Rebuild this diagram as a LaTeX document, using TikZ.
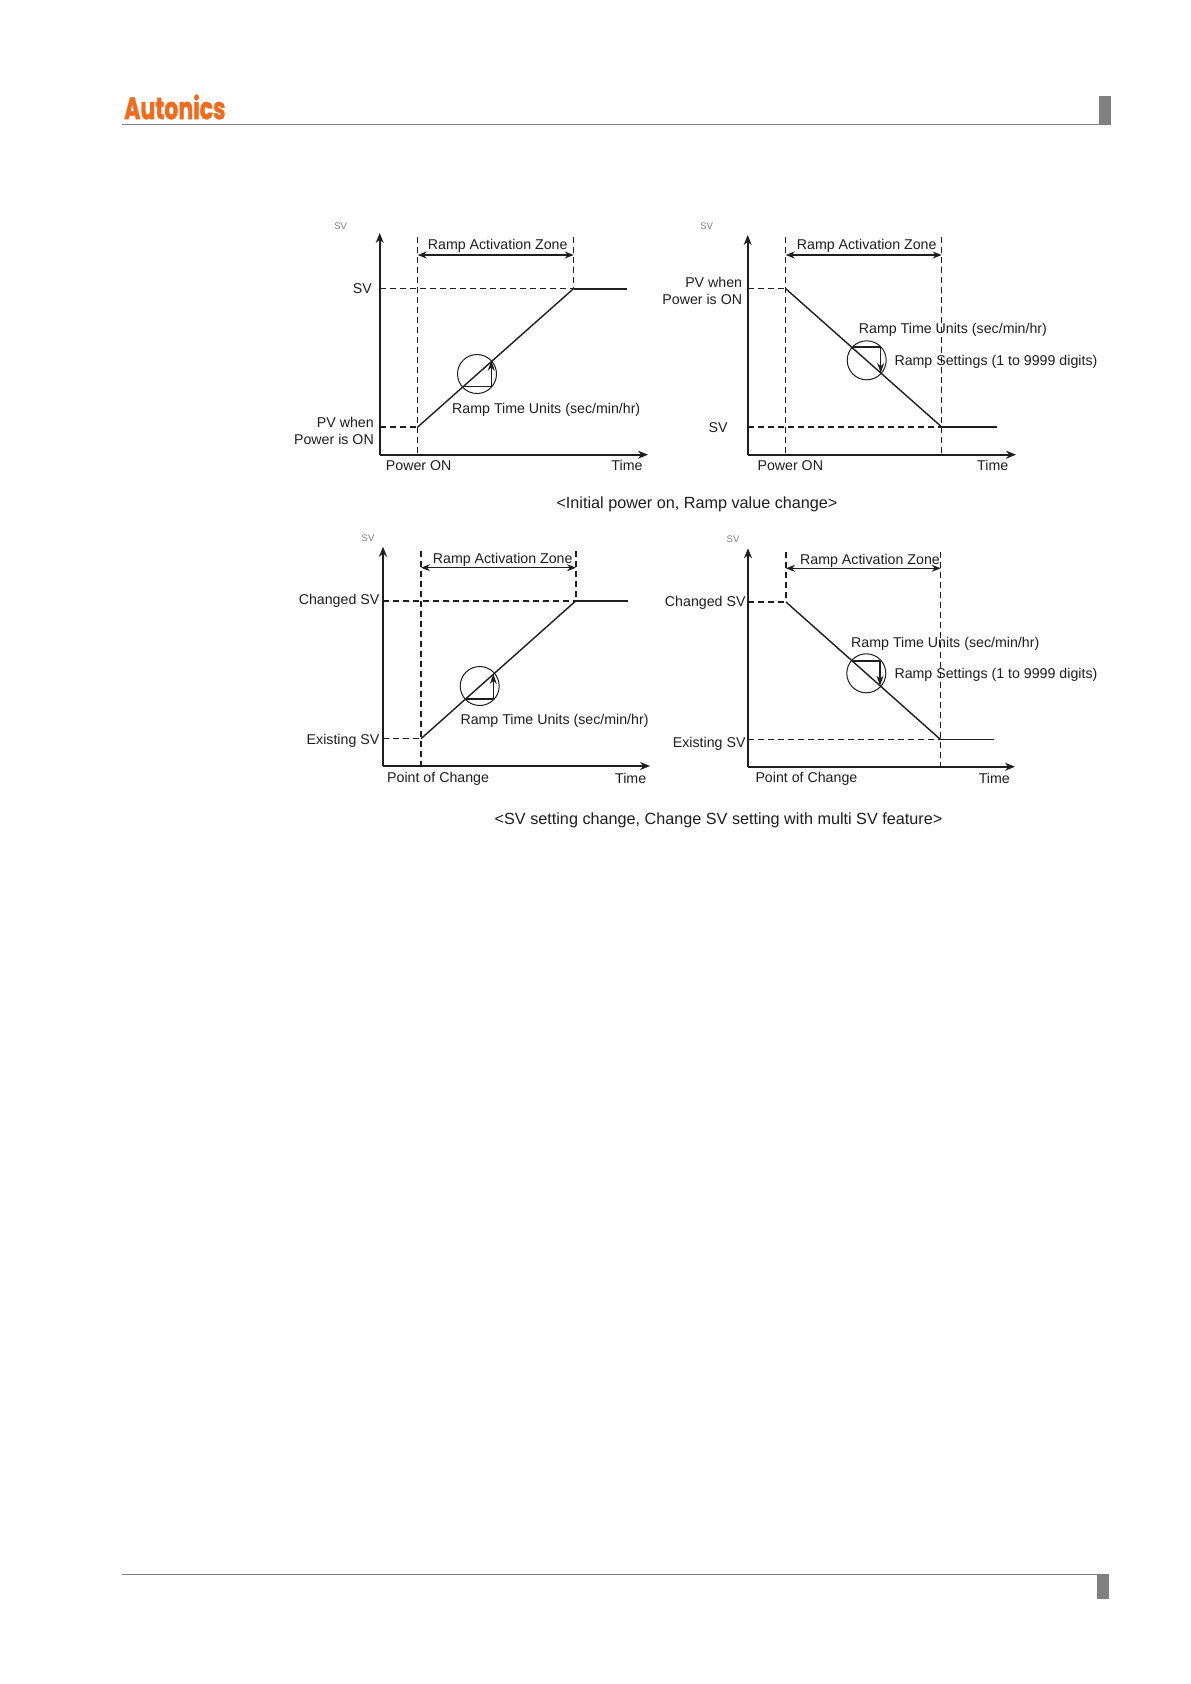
\documentclass[tikz,border=0pt]{standalone}
\usepackage{fontspec}
\setmainfont{Liberation Sans}
\newfontfamily\logofont[BoldFeatures={FakeBold=1.6}]{Poppins}
\usetikzlibrary{arrows.meta}
\definecolor{ink}{HTML}{1E1E1E}
\definecolor{rulegray}{HTML}{808080}
\definecolor{logoorange}{HTML}{F26A1B}
\tikzset{
  lbl/.style={inner sep=0pt,yshift=-2.5pt,font=\fontsize{14.2}{16}\selectfont,text=ink},
  lw/.style={lbl,anchor=mid west},
  le/.style={lbl,anchor=mid east},
  lc/.style={lbl,anchor=mid},
  svtiny/.style={inner sep=0pt,anchor=mid,yshift=-0.5pt,font=\fontsize{9.5}{11}\selectfont,text=gray},
  captext/.style={inner sep=0pt,anchor=mid,yshift=-2.5pt,font=\fontsize{16.2}{18}\selectfont,text=ink},
  axisline/.style={draw=ink,line width=1.7pt,-{Stealth[length=10pt,width=8pt]}},
  guide/.style={draw=ink,line width=1.2pt,dash pattern=on 6pt off 4pt},
  guidebold/.style={guide,line width=1.6pt},
  rampline/.style={draw=ink,line width=1.4pt},
  flatline/.style={draw=ink,line width=1.3pt},
  flatbold/.style={draw=ink,line width=2pt},
  zoneline/.style={draw=ink,line width=1.3pt,{Stealth[length=9pt,width=7pt]}-{Stealth[length=9pt,width=7pt]}},
  ring/.style={draw=ink,line width=1pt,circle,minimum size=39pt,inner sep=0pt},
  legline/.style={draw=ink,line width=1.3pt},
  legarrow/.style={draw=ink,line width=1.3pt,-{Stealth[length=10pt,width=7pt]}},
  rulefill/.style={fill=rulegray,draw=none},
  ruleline/.style={draw=rulegray,line width=1pt}
}
\begin{document}
\begin{tikzpicture}[x=1pt,y=-1pt]
\useasboundingbox[fill=white] (0,0) rectangle (1191,1684);
% header and footer
\node[inner sep=0pt,anchor=west,text=logoorange,font=\logofont\bfseries\fontsize{24}{28}\selectfont] (logo) at (124,107) {\scalebox{0.92}[1.28]{Autonics}};
\coordinate (hl) at (122,124.5); \coordinate (hr) at (1100,124.5);
\draw[ruleline] (hl) -- (hr);
\fill[rulefill] (1099,96) rectangle (1111,125);
\coordinate (fl) at (122,1574.5); \coordinate (fr) at (1098,1574.5);
\draw[ruleline] (fl) -- (fr);
\fill[rulefill] (1097,1574) rectangle (1109,1599);

% Diagram A
\coordinate (a0) at (379.7,454.7); \coordinate (ay) at (379.7,233); \coordinate (ax) at (648,454.7);
\coordinate (a1t) at (417.7,237); \coordinate (a1b) at (417.7,454.7);
\coordinate (a2t) at (573.7,237);
\coordinate (aS0) at (379.7,288.5); \coordinate (aS) at (573.7,288.5); \coordinate (aSe) at (627,288.5);
\coordinate (aP0) at (379.7,427); \coordinate (aP) at (417.7,427);
\coordinate (aZl) at (417.7,255); \coordinate (aZr) at (573.7,255);
\coordinate (aT1) at (462.7,386.7); \coordinate (aT2) at (491.3,386.7); \coordinate (aT3) at (491.3,360.7);
\draw[axisline] (a0) -- (ay); \draw[axisline] (a0) -- (ax);
\draw[guide] (a1t) -- (a1b); \draw[guide] (a2t) -- (aS);
\draw[guidebold] (aS0) -- (aS); \draw[guide] (aP0) -- (aP);
\draw[flatbold] (aS) -- (aSe); \draw[rampline] (aP) -- (aS);
\draw[zoneline] (aZl) -- (aZr);
\node[ring] (aC) at (477,374) {};
\draw[legline] (aT1) -- (aT2); \draw[legarrow] (aT2) -- (aT3);
\node[svtiny] (asv) at (340.7,226) {SV};
\node[lc] (azt) at (497.7,244) {Ramp Activation Zone};
\node[le] (asl) at (372,288) {SV};
\node[le] (ap1) at (374,422) {PV when};
\node[le] (ap2) at (374,439) {Power is ON};
\node[lw] (art) at (452,408) {Ramp Time Units (sec/min/hr)};
\node[lc] (apo) at (418.7,465) {Power ON};
\node[lc] (ati) at (627,465) {Time};
\node[captext] (cap1) at (697,503) {<Initial power on, Ramp value change>};

% Diagram B
\coordinate (b0) at (747.7,454.7); \coordinate (by) at (747.7,235); \coordinate (bx) at (1016,454.7);
\coordinate (b1t) at (785.7,237); \coordinate (b1b) at (785.7,454.7);
\coordinate (b2t) at (941.7,237); \coordinate (b2b) at (941.7,454.7);
\coordinate (bP0) at (747.7,288.7); \coordinate (bP) at (785.7,288.7);
\coordinate (bS0) at (747.7,427); \coordinate (bS) at (941.7,427); \coordinate (bSe) at (996.7,427);
\coordinate (bZl) at (785.7,255); \coordinate (bZr) at (941.7,255);
\coordinate (bT1) at (853.3,347); \coordinate (bT2) at (880.7,347); \coordinate (bT3) at (880.7,373);
\draw[axisline] (b0) -- (by); \draw[axisline] (b0) -- (bx);
\draw[guide] (b1t) -- (b1b); \draw[guide] (b2t) -- (b2b);
\draw[guide] (bP0) -- (bP); \draw[guide] (bS0) -- (bS);
\draw[flatline] (bS) -- (bSe); \draw[rampline] (bP) -- (bS);
\draw[zoneline] (bZl) -- (bZr);
\node[ring] (bC) at (866.7,360.3) {};
\draw[legline] (bT1) -- (bT2); \draw[legarrow] (bT2) -- (bT3);
\node[svtiny] (bsv) at (706.7,226) {SV};
\node[lc] (bzt) at (866.7,244) {Ramp Activation Zone};
\node[le] (bp1) at (742.3,282.3) {PV when};
\node[le] (bp2) at (742.3,299.3) {Power is ON};
\node[lw] (brt) at (858.7,328.3) {Ramp Time Units (sec/min/hr)};
\node[lw] (brs) at (894.3,360) {Ramp Settings (1 to 9999 digits)};
\node[lc] (bsl) at (718,427) {SV};
\node[lc] (bpo) at (790.3,465) {Power ON};
\node[lc] (bti) at (992.7,465) {Time};

% Diagram C
\coordinate (c0) at (383,766); \coordinate (cy) at (383,546.7); \coordinate (cx) at (650,766);
\coordinate (c1t) at (421,550.7); \coordinate (c1b) at (421,766);
\coordinate (c2t) at (576,550.7);
\coordinate (cS0) at (383,600.7); \coordinate (cS) at (576,600.7); \coordinate (cSe) at (628,600.7);
\coordinate (cP0) at (383,738.7); \coordinate (cP) at (421,738.7);
\coordinate (cZl) at (421,567.7); \coordinate (cZr) at (576,567.7);
\coordinate (cT1) at (465.3,699); \coordinate (cT2) at (493.3,699); \coordinate (cT3) at (493.3,674);
\draw[axisline] (c0) -- (cy); \draw[axisline] (c0) -- (cx);
\draw[guide] (c1t) -- (c1b); \draw[guide] (c2t) -- (cS);
\draw[guidebold] (cS0) -- (cS); \draw[guide] (cP0) -- (cP);
\draw[flatbold] (cS) -- (cSe); \draw[rampline] (cP) -- (cS);
\draw[zoneline] (cZl) -- (cZr);
\node[ring] (cC) at (479.7,686) {};
\draw[legline] (cT1) -- (cT2); \draw[legarrow] (cT2) -- (cT3);
\node[svtiny] (csv) at (368,538.3) {SV};
\node[lc] (czt) at (502.7,558.7) {Ramp Activation Zone};
\node[le] (csl) at (379.5,599) {Changed SV};
\node[le] (cel) at (379.5,739.3) {Existing SV};
\node[lw] (crt) at (460.3,719.7) {Ramp Time Units (sec/min/hr)};
\node[lw] (cpo) at (387,777.3) {Point of Change};
\node[lc] (cti) at (630.7,778.7) {Time};
\node[captext] (cap2) at (718.5,819) {<SV setting change, Change SV setting with multi SV feature>};

% Diagram D
\coordinate (d0) at (748,766.7); \coordinate (dy) at (748,548.3); \coordinate (dx) at (1015,766.7);
\coordinate (d1t) at (786,552);
\coordinate (d2t) at (940.7,552); \coordinate (d2b) at (940.7,766.7);
\coordinate (dP0) at (748,602); \coordinate (dP) at (786,602);
\coordinate (dS0) at (748,739.7); \coordinate (dS) at (940.7,739.7); \coordinate (dSe) at (994,739.7);
\coordinate (dZl) at (786,568.3); \coordinate (dZr) at (940.7,568.3);
\coordinate (dT1) at (852.7,661); \coordinate (dT2) at (880,661); \coordinate (dT3) at (880,685.7);
\draw[axisline] (d0) -- (dy); \draw[axisline] (d0) -- (dx);
\draw[guide] (d1t) -- (dP); \draw[guide] (d2t) -- (d2b);
\draw[guide] (dP0) -- (dP); \draw[guide] (dS0) -- (dS);
\draw[flatline] (dS) -- (dSe); \draw[rampline] (dP) -- (dS);
\draw[zoneline] (dZl) -- (dZr);
\node[ring] (dC) at (866.3,673.3) {};
\draw[legline] (dT1) -- (dT2); \draw[legarrow] (dT2) -- (dT3);
\node[svtiny] (dsv) at (733,539.3) {SV};
\node[lc] (dzt) at (870,559.3) {Ramp Activation Zone};
\node[le] (dsl) at (745.7,601) {Changed SV};
\node[le] (del) at (745.7,742) {Existing SV};
\node[lw] (drt) at (851,642.3) {Ramp Time Units (sec/min/hr)};
\node[lw] (drs) at (894.3,673) {Ramp Settings (1 to 9999 digits)};
\node[lw] (dpo) at (755.3,777) {Point of Change};
\node[lc] (dti) at (994.3,778.7) {Time};
\end{tikzpicture}
\end{document}
